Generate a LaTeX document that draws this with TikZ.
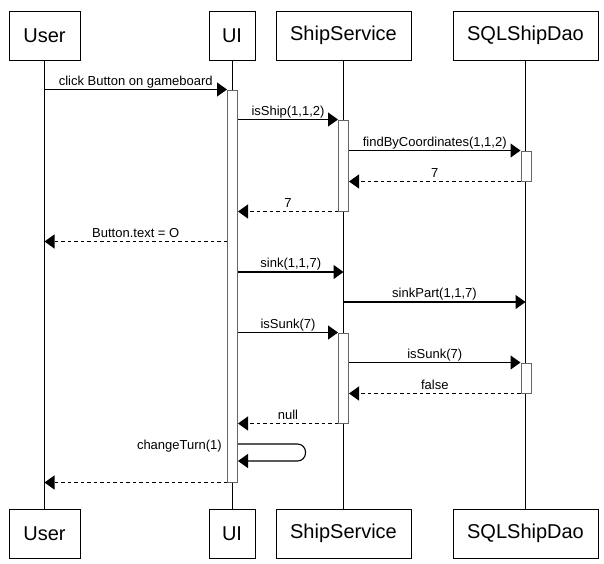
\documentclass[tikz,border=0pt]{standalone}
\usepackage{fontspec}
\setmainfont{Liberation Sans}
\usetikzlibrary{arrows.meta}
\begin{document}
\begin{tikzpicture}[x=1pt,y=-1pt,
  actor/.style={draw=black, line width=1pt, minimum height=49pt, inner sep=0pt, fill=white, font=\fontsize{20}{24}\selectfont},
  act/.style={draw=black!60, fill=white, line width=1pt, minimum width=10pt, inner sep=0pt},
  life/.style={draw=black, line width=1pt},
  msg/.style={draw=black, line width=1.1pt, -{Triangle[length=10pt,width=14pt]}},
  ret/.style={msg, dash pattern=on 3.5pt off 3pt},
  lbl/.style={font=\fontsize{13}{15}\selectfont, inner sep=0pt, text depth=0pt, midway, above=3.5pt}]
\useasboundingbox (0,0) rectangle (604,563);
% actor boxes
\node[actor, minimum width=71pt]  (userT) at (44.5,35.5) {User};
\node[actor, minimum width=46pt]  (uiT)   at (232,35.5) {UI};
\node[actor, minimum width=135pt] (shipT) at (343.5,35.5) {ShipService};
\node[actor, minimum width=145pt] (sqlT)  at (525.5,35.5) {SQLShipDao};
\node[actor, minimum width=71pt]  (userB) at (44.5,533.5) {User};
\node[actor, minimum width=46pt]  (uiB)   at (232,533.5) {UI};
\node[actor, minimum width=135pt] (shipB) at (343.5,533.5) {ShipService};
\node[actor, minimum width=145pt] (sqlB)  at (525.5,533.5) {SQLShipDao};
% lifelines
\draw[life] (userT) -- (userB);
\draw[life] (uiT) -- (uiB);
\draw[life] (shipT) -- (shipB);
\draw[life] (sqlT) -- (sqlB);
% activations
\node[act, minimum height=392pt] (uiA)   at (232.5,286) {};
\node[act, minimum height=91pt]  (shipA1) at (343.5,165.5) {};
\node[act, minimum height=30pt]  (sqlA1) at (526,166) {};
\node[act, minimum height=90pt]  (shipA2) at (343.5,378) {};
\node[act, minimum height=30pt]  (sqlA2) at (526,378) {};
% message rows
\coordinate (y6) at (0,241.5);
\coordinate (y7) at (0,272);
\coordinate (y8) at (0,302);
\coordinate (y12) at (0,444);
\coordinate (y12b) at (0,461);
% messages
\draw[msg] (userT.south |- uiA.north) -- (uiA.north west) node[lbl] {click Button on gameboard};
\draw[msg] (uiA.east |- shipA1.north) -- (shipA1.north west) node[lbl] {isShip(1,1,2)};
\draw[msg] (shipA1.east |- sqlA1.north) -- (sqlA1.north west) node[lbl] {findByCoordinates(1,1,2)};
\draw[ret] (sqlA1.south west) -- (shipA1.east |- sqlA1.south) node[lbl] {7};
\draw[ret] (shipA1.south west) -- (uiA.east |- shipA1.south) node[lbl] {7};
\draw[ret] (uiA.west |- y6) -- (userT.south |- y6) node[lbl] {Button.text = O};
\draw[msg] (uiA.east |- y7) -- (shipT.south |- y7) node[lbl] {sink(1,1,7)};
\draw[msg] (shipT.south |- y8) -- (sqlT.south |- y8) node[lbl] {sinkPart(1,1,7)};
\draw[msg] (uiA.east |- shipA2.north) -- (shipA2.north west) node[lbl] {isSunk(7)};
\draw[msg] (shipA2.east |- sqlA2.north) -- (sqlA2.north west) node[lbl] {isSunk(7)};
\draw[ret] (sqlA2.south west) -- (shipA2.east |- sqlA2.south) node[lbl] {false};
\draw[ret] (shipA2.south west) -- (uiA.east |- shipA2.south) node[lbl] {null};
\draw[msg, rounded corners=8pt] (uiA.east |- y12) -- ++(67.5,0) |- (uiA.east |- y12b);
\node[font=\fontsize{13}{15}\selectfont, inner sep=0pt, anchor=base east] (ct) at (222,449) {changeTurn(1)};
\draw[ret] (uiA.south west) -- (userT.south |- uiA.south);
\end{tikzpicture}
\end{document}
